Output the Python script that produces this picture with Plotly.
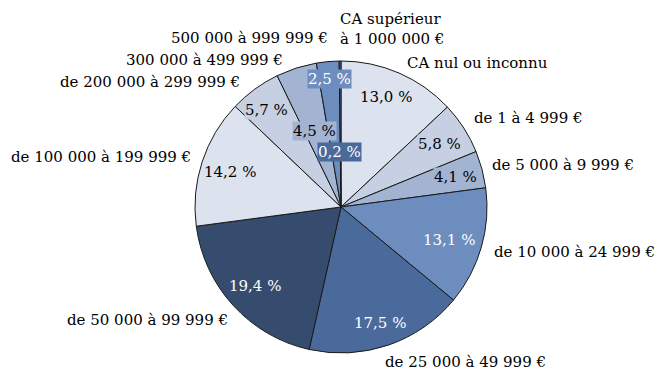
import plotly.graph_objects as go

categories = [
    "CA nul ou inconnu",
    "de 1 à 4 999 €",
    "de 5 000 à 9 999 €",
    "de 10 000 à 24 999 €",
    "de 25 000 à 49 999 €",
    "de 50 000 à 99 999 €",
    "de 100 000 à 199 999 €",
    "de 200 000 à 299 999 €",
    "300 000 à 499 999 €",
    "500 000 à 999 999 €",
    "CA supérieur<br>à 1 000 000 €",
]
values = [13.0, 5.8, 4.1, 13.1, 17.5, 19.4, 14.2, 5.7, 4.5, 2.5, 0.2]
pct_labels = [f"{v:.1f}".replace(".", ",") + " %" for v in values]

colors = ["#dce3ef", "#c6d0e2", "#a3b4d2", "#6c8dbe", "#4a6a9c", "#364c6e",
          "#dce3ef", "#c6d0e2", "#a3b4d2", "#6c8dbe", "#4a6a9c"]
text_colors = ["black", "black", "black", "white", "white", "white",
               "black", "black", "black", "white", "white"]

W, H = 665, 387
cx, cy, r = 341, 207, 146

# label positions in pixels (text placement only)
pct_pos = [(386, 97), (439, 144), (455, 177), (449, 240), (380, 323), (255, 286),
           (230, 172), (266, 110), (314, 131), (329, 79), (339, 152)]
cat_pos = [(405, 63, "left"), (472, 118, "left"), (490, 165, "left"), (492, 252, "left"),
           (383, 362, "left"), (230, 320, "right"), (193, 157, "right"), (242, 82, "right"),
           (285, 60, "right"), (330, 38, "right"), (338, 29, "left")]

FONT = "DejaVu Serif"
FS = 15

fig = go.Figure(go.Pie(
    labels=categories, values=values, sort=False, direction="clockwise", rotation=0,
    marker=dict(colors=colors, line=dict(color="#1a1a1a", width=1)),
    textinfo="none", hoverinfo="label+percent", showlegend=False,
    domain=dict(x=[(cx - r) / W, (cx + r) / W], y=[(H - cy - r) / H, (H - cy + r) / H]),
))

annotations = []
for i, (x, y) in enumerate(pct_pos):
    annotations.append(dict(
        x=x / W, y=1 - y / H, xref="paper", yref="paper", text=pct_labels[i],
        showarrow=False, font=dict(family=FONT, size=FS, color=text_colors[i]),
        bgcolor=colors[i], borderpad=0, xanchor="center", yanchor="middle"))
for i, (x, y, side) in enumerate(cat_pos):
    annotations.append(dict(
        x=x / W, y=1 - y / H, xref="paper", yref="paper", text=categories[i],
        showarrow=False, font=dict(family=FONT, size=FS, color="black"),
        xanchor=side, yanchor="middle", align="left"))

fig.update_layout(
    width=W, height=H, margin=dict(l=0, r=0, t=0, b=0),
    paper_bgcolor="white", plot_bgcolor="white", annotations=annotations,
    font=dict(family=FONT),
)
fig.write_html("out.html")
